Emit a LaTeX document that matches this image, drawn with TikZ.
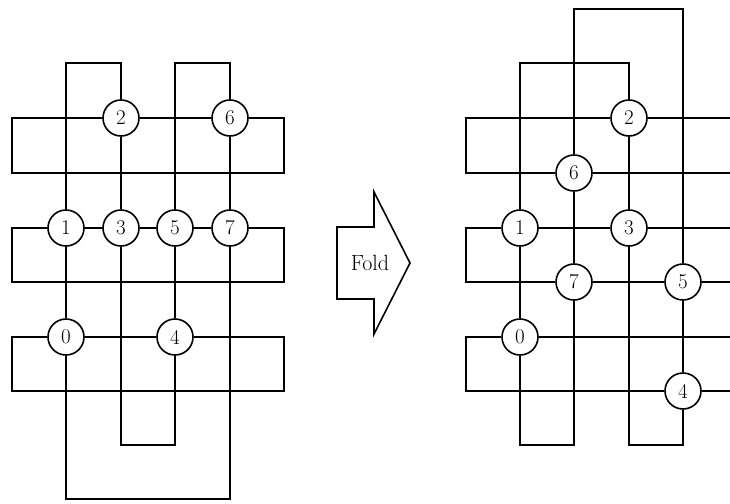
\documentclass[tikz,border=0pt]{standalone}
\begin{document}
\begin{tikzpicture}[x=1pt,y=-1pt,
  wire/.style={line width=1.6pt,line join=miter},
  site/.style={circle,draw,line width=1.6pt,fill=white,minimum size=36pt,inner sep=0pt,
    font=\fontsize{21}{25}\selectfont},
  foldarrow/.style={line width=1.6pt,fill=white,line join=miter}]
\useasboundingbox (0,0) rectangle (730,503);

% ---------- unfolded chain ----------
% columns 12 66 121 175 230 284, rows 63 118 173 228 282 337 391 445 499
\node[site] (L2) at (121,118) {2};
\node[site] (L6) at (230,118) {6};
\node[site] (L1) at (66,228) {1};
\node[site] (L3) at (121,228) {3};
\node[site] (L5) at (175,228) {5};
\node[site] (L7) at (230,228) {7};
\node[site] (L0) at (66,337) {0};
\node[site] (L4) at (175,337) {4};
% corners of the closed chain
\coordinate (la) at (66,63);  \coordinate (lb) at (121,63);
\coordinate (lc) at (121,445); \coordinate (ld) at (175,445);
\coordinate (le) at (175,63); \coordinate (lf) at (230,63);
\coordinate (lg) at (230,499); \coordinate (lh) at (66,499);
\draw[wire] (L1) -- (la) -- (lb) -- (L2);
\draw[wire] (L2) -- (L3);
\draw[wire] (L3) -- (lc) -- (ld) -- (L4);
\draw[wire] (L4) -- (L5);
\draw[wire] (L5) -- (le) -- (lf) -- (L6);
\draw[wire] (L6) -- (L7);
\draw[wire] (L7) -- (lg) -- (lh) -- (L0);
\draw[wire] (L0) -- (L1);
% row rectangles
\coordinate (r1a) at (12,118); \coordinate (r1b) at (284,118);
\coordinate (r1c) at (284,173); \coordinate (r1d) at (12,173);
\draw[wire] (L2) -- (L6);
\draw[wire] (L6) -- (r1b) -- (r1c) -- (r1d) -- (r1a) -- (L2);
\coordinate (r3a) at (12,228); \coordinate (r3b) at (284,228);
\coordinate (r3c) at (284,282); \coordinate (r3d) at (12,282);
\draw[wire] (L1) -- (L3) -- (L5) -- (L7);
\draw[wire] (L7) -- (r3b) -- (r3c) -- (r3d) -- (r3a) -- (L1);
\coordinate (r5a) at (12,337); \coordinate (r5b) at (284,337);
\coordinate (r5c) at (284,391); \coordinate (r5d) at (12,391);
\draw[wire] (L0) -- (L4);
\draw[wire] (L4) -- (r5b) -- (r5c) -- (r5d) -- (r5a) -- (L0);

% ---------- fold arrow ----------
\draw[foldarrow] (337,227) -- (374,227) -- (374,192) -- (410,263)
  -- (374,334) -- (374,299) -- (337,299) -- cycle;
\node[font=\fontsize{22}{26}\selectfont] (fold) at (370,263) {Fold};

% ---------- folded chain ----------
% columns 466 520 574 629 683, rows 9 63 118 ... 445
\node[site] (R2) at (629,118) {2};
\node[site] (R6) at (574,173) {6};
\node[site] (R1) at (520,228) {1};
\node[site] (R3) at (629,228) {3};
\node[site] (R7) at (574,282) {7};
\node[site] (R5) at (683,282) {5};
\node[site] (R0) at (520,337) {0};
\node[site] (R4) at (683,391) {4};
\coordinate (ra) at (520,63);  \coordinate (rb) at (629,63);
\coordinate (rc) at (629,445); \coordinate (rd) at (683,445);
\coordinate (re) at (683,9);   \coordinate (rf) at (574,9);
\coordinate (rg) at (574,445); \coordinate (rh) at (520,445);
\draw[wire] (R1) -- (ra) -- (rb) -- (R2);
\draw[wire] (R2) -- (R3);
\draw[wire] (R3) -- (rc) -- (rd) -- (R4);
\draw[wire] (R4) -- (R5);
\draw[wire] (R5) -- (re) -- (rf) -- (R6);
\draw[wire] (R6) -- (R7);
\draw[wire] (R7) -- (rg) -- (rh) -- (R0);
\draw[wire] (R0) -- (R1);
% row loops, running out past the right edge
\coordinate (s1a) at (732,118); \coordinate (s1b) at (466,118);
\coordinate (s1c) at (466,173); \coordinate (s1d) at (732,173);
\draw[wire] (s1a) -- (R2);
\draw[wire] (R2) -- (s1b) -- (s1c) -- (R6);
\draw[wire] (R6) -- (s1d);
\coordinate (s3a) at (732,228); \coordinate (s3b) at (466,228);
\coordinate (s3c) at (466,282); \coordinate (s3d) at (732,282);
\draw[wire] (s3a) -- (R3) -- (R1);
\draw[wire] (R1) -- (s3b) -- (s3c) -- (R7);
\draw[wire] (R7) -- (R5) -- (s3d);
\coordinate (s5a) at (732,337); \coordinate (s5b) at (466,337);
\coordinate (s5c) at (466,391); \coordinate (s5d) at (732,391);
\draw[wire] (s5a) -- (R0);
\draw[wire] (R0) -- (s5b) -- (s5c) -- (R4);
\draw[wire] (R4) -- (s5d);
\end{tikzpicture}
\end{document}
